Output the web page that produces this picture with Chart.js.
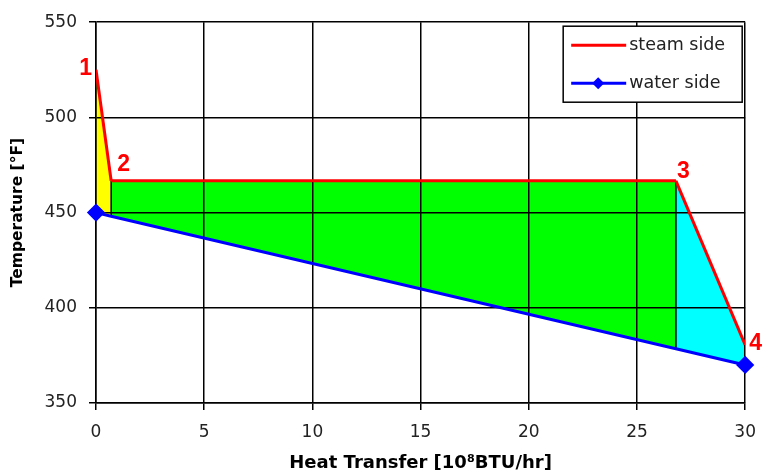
<!DOCTYPE html>
<html>
<head>
<meta charset="utf-8">
<script src="https://cdn.jsdelivr.net/npm/chart.js@4.4.1/dist/chart.umd.min.js"></script>
<style>
  body { margin: 0; background: #fff; }
  #wrap { width: 768px; height: 474px; }
</style>
</head>
<body>
<div id="wrap"><canvas id="chart" width="768" height="474"></canvas></div>
<script>
// Heat exchanger temperature profile

const steamX = [0, 0.7, 26.8, 30];
const steamY = [525, 466.7, 466.7, 380.5];
const waterX = [0, 0.7, 26.8, 30];
const waterY = [450, 448.1, 378.5, 370];
const stateLabels = ['1', '2', '3', '4'];
const seriesNames = ['steam side', 'water side'];

const zoneColors = ['#ffff00', '#00ff00', '#00ffff'];
const FONT = '"DejaVu Sans", Verdana, sans-serif';
const LABEL_FONT = '"Liberation Sans", Arial, sans-serif';

function toPoints(xs, ys) {
    return xs.map((x, i) => ({ x: x, y: ys[i] }));
}

// vertical black lines between the zones (at state 2 and 3)
const dividers = [1, 2].map(i => ({
    label: 'divider',
    data: [{ x: waterX[i], y: waterY[i] }, { x: steamX[i], y: steamY[i] }],
    borderColor: '#000',
    borderWidth: 1.5,
    pointRadius: 0,
    fill: false
}));

// state numbers next to the steam line
const stateLabelPlugin = {
    id: 'stateLabels',
    afterDatasetsDraw(chart) {
        const { ctx, scales: { x, y } } = chart;
        const offsets = [[-4, -1, 'right'], [6, -16, 'left'], [1, -9, 'left'], [4, -1, 'left']];
        ctx.save();
        ctx.fillStyle = '#ff0000';
        ctx.font = 'bold 23px ' + LABEL_FONT;
        ctx.textBaseline = 'middle';
        stateLabels.forEach((t, i) => {
            const o = offsets[i];
            ctx.textAlign = o[2];
            ctx.fillText(t, x.getPixelForValue(steamX[i]) + o[0], y.getPixelForValue(steamY[i]) + o[1]);
        });
        ctx.restore();
    }
};

// boxed legend inside the plot, top right
const boxLegendPlugin = {
    id: 'boxLegend',
    afterDraw(chart) {
        const { ctx, chartArea } = chart;
        const w = 179, h = 76;
        const left = chartArea.right - 182, top = chartArea.top + 4;
        ctx.save();
        ctx.fillStyle = '#fff';
        ctx.fillRect(left, top, w, h);
        ctx.strokeStyle = '#000';
        ctx.lineWidth = 1.5;
        ctx.strokeRect(left, top, w, h);

        const rows = [
            { color: '#ff0000', marker: false, y: top + 19 },
            { color: '#0000ff', marker: true, y: top + 57 }
        ];
        ctx.font = '17.5px ' + FONT;
        ctx.textBaseline = 'middle';
        ctx.textAlign = 'left';
        rows.forEach((r, i) => {
            ctx.strokeStyle = r.color;
            ctx.lineWidth = 3;
            ctx.beginPath();
            ctx.moveTo(left + 8, r.y);
            ctx.lineTo(left + 63, r.y);
            ctx.stroke();
            if (r.marker) {
                const cx = left + 35;
                ctx.fillStyle = r.color;
                ctx.beginPath();
                ctx.moveTo(cx, r.y - 6);
                ctx.lineTo(cx + 6, r.y);
                ctx.lineTo(cx, r.y + 6);
                ctx.lineTo(cx - 6, r.y);
                ctx.closePath();
                ctx.fill();
            }
            ctx.fillStyle = '#222';
            ctx.fillText(seriesNames[i], left + 66, r.y);
        });
        ctx.restore();
    }
};

new Chart(document.getElementById('chart'), {
    type: 'line',
    data: {
        datasets: [
            {
                label: seriesNames[0],
                data: toPoints(steamX, steamY),
                borderColor: '#ff0000',
                borderWidth: 3,
                pointRadius: 0,
                fill: { target: 1 },
                backgroundColor: zoneColors[1],
                segment: {
                    backgroundColor: c => zoneColors[c.p0DataIndex]
                }
            },
            {
                label: seriesNames[1],
                data: toPoints(waterX, waterY),
                borderColor: '#0000ff',
                backgroundColor: '#0000ff',
                borderWidth: 3,
                pointStyle: 'rectRot',
                pointRadius: c => (c.dataIndex === 0 || c.dataIndex === waterX.length - 1) ? 7 : 0,
                clip: false,
                fill: false
            },
            ...dividers
        ]
    },
    options: {
        responsive: false,
        animation: false,
        layout: { padding: { top: 19, right: 22, left: 0, bottom: 0 } },
        plugins: {
            legend: { display: false },
            tooltip: { enabled: false },
            filler: { drawTime: 'beforeDraw' }
        },
        scales: {
            x: {
                type: 'linear',
                min: 0,
                max: 30,
                ticks: { stepSize: 5, color: '#222', font: { family: FONT, size: 17 }, padding: 12, maxRotation: 0 },
                grid: { color: '#000', lineWidth: 1.5, tickLength: 7 },
                border: { color: '#000', width: 1.5 },
                title: {
                    display: true,
                    text: 'Heat Transfer [10⁸BTU/hr]',
                    color: '#000',
                    font: { family: FONT, size: 18, weight: 'bold' },
                    padding: { top: 0, bottom: 0 }
                },
                afterFit(scale) { scale.height = 71; }
            },
            y: {
                min: 350,
                max: 550,
                ticks: { stepSize: 50, color: '#222', font: { family: FONT, size: 17 }, padding: 12 },
                grid: { color: '#000', lineWidth: 1.5, tickLength: 7 },
                border: { color: '#000', width: 1.5 },
                title: {
                    display: true,
                    text: 'Temperature [°F]',
                    color: '#000',
                    font: { family: FONT, size: 15.5, weight: 'bold' },
                    padding: { top: 9, bottom: 0 }
                },
                afterFit(scale) { scale.width = 96; }
            }
        }
    },
    plugins: [stateLabelPlugin, boxLegendPlugin]
});
</script>
</body>
</html>
